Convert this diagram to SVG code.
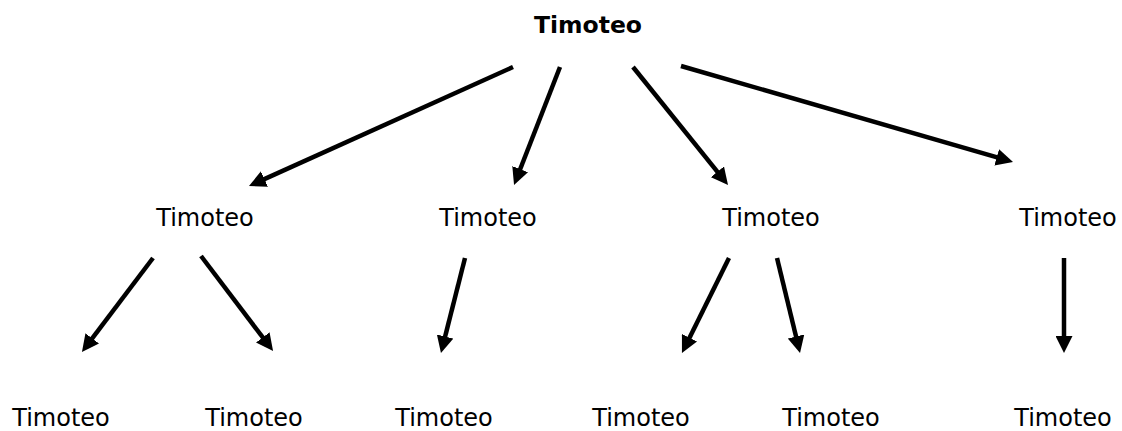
<svg xmlns="http://www.w3.org/2000/svg" width="1122" height="431" viewBox="0 0 1122 431">
<style>
.t{font-family:"DejaVu Sans","Noto Sans",sans-serif;font-size:24px;fill:#000;text-anchor:middle}
.b{font-weight:bold;font-size:23.5px}
.c line{stroke:#000;stroke-width:4.5;marker-end:url(#ah)}
</style>
<defs>
<marker id="ah" viewBox="0 0 17 17" markerWidth="17" markerHeight="17" markerUnits="userSpaceOnUse" refX="5" refY="8.5" orient="auto">
<path d="M0,0 L17,8.5 L0,17 z" fill="#000"/>
</marker>
</defs>
<rect width="1122" height="431" fill="#fff"/>
<g id="connectors" class="c">
<line x1="513" y1="67" x2="259.9" y2="181.1"/>
<line x1="560" y1="67" x2="518.4" y2="173.8"/>
<line x1="633" y1="67" x2="720.5" y2="175.7"/>
<line x1="681" y1="66" x2="1001.5" y2="158.7"/>
<line x1="153" y1="258" x2="89.2" y2="342.4"/>
<line x1="201" y1="256" x2="265.8" y2="341.4"/>
<line x1="465" y1="258" x2="443.9" y2="341.4"/>
<line x1="729" y1="258" x2="687.3" y2="342.2"/>
<line x1="777" y1="258" x2="797.2" y2="341.3"/>
<line x1="1064" y1="258" x2="1064" y2="341"/>
</g>
<g id="root"><text class="t b" x="588" y="33">Timoteo</text></g>
<g id="n1"><text class="t" x="205" y="226">Timoteo</text></g>
<g id="n2"><text class="t" x="488" y="226">Timoteo</text></g>
<g id="n3"><text class="t" x="771" y="226">Timoteo</text></g>
<g id="n4"><text class="t" x="1068" y="226">Timoteo</text></g>
<g id="n11"><text class="t" x="61" y="426">Timoteo</text></g>
<g id="n12"><text class="t" x="254" y="426">Timoteo</text></g>
<g id="n21"><text class="t" x="444" y="426">Timoteo</text></g>
<g id="n31"><text class="t" x="641" y="426">Timoteo</text></g>
<g id="n32"><text class="t" x="831" y="426">Timoteo</text></g>
<g id="n41"><text class="t" x="1063" y="426">Timoteo</text></g>
</svg>
